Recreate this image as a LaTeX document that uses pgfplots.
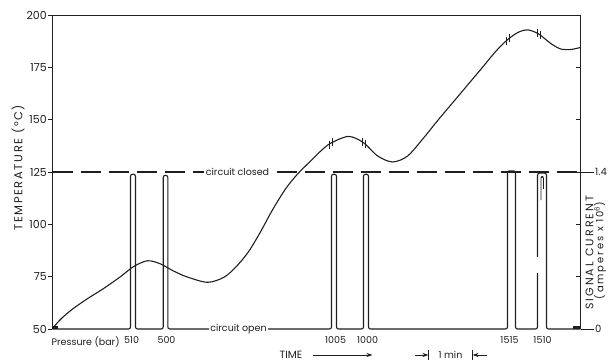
\documentclass[border=0pt]{standalone}
\usepackage{fontspec}
\setmainfont{Poppins}
\newfontfamily\spaced{Poppins}[LetterSpace=14]
\newfontfamily\wide{Poppins}[LetterSpace=19]
\usepackage{pgfplots}
\pgfplotsset{compat=1.18}
\usetikzlibrary{arrows.meta}
\definecolor{ink}{gray}{0.12}

\begin{document}
\begin{tikzpicture}[font=\fontsize{10}{12}\selectfont]
% ---------------- temperature axis (left) ----------------
\begin{axis}[
  width=528pt, height=314pt, scale only axis,
  xmin=0, xmax=528, ymin=50, ymax=200,
  axis x line=none, axis y line*=left,
  axis line style={ink, line width=0.9pt},
  ytick={50,75,...,200},
  tick align=outside, major tick length=4pt,
  tick style={ink, line width=0.9pt},
  yticklabel style={font=\fontsize{11}{11}\selectfont, inner sep=1.5pt, text=ink},
  /pgf/number format/assume math mode=true,
  clip=false,
]
\addplot[ink, line width=1.1pt, smooth, tension=0.5] coordinates {
(0,50.0)(4,52.5)(10,55.5)(20,59.5)(35,64.5)(50,69.0)(68,75.0)(81,79.8)
(95,82.6)(108,81.1)(121,77.7)(135,74.8)(155,72.3)(171,74.6)(183,79.4)(196,86.9)
(208,96.4)(220,106.9)(233,116.9)(245,124.0)(258,130.2)(268,134.9)(278,138.7)
(296,142.0)(311,139.0)(325,132.7)(340,129.8)(355,132.6)(371,141.2)(385,149.5)
(400,158.0)(415,166.5)(430,175.0)(443,182.5)(455,188.2)(466,191.8)(475,192.9)
(486,191.0)(498,186.5)(508,183.8)(518,183.5)(528,184.5)
};
\addplot[ink, only marks, mark=|, mark size=4pt, mark options={line width=0.8pt}] coordinates {
(276.5,138.1)(279.5,139.2)(309.5,139.5)(312.5,138.4)
(453.5,187.6)(456.5,188.8)(484.5,191.4)(487.5,190.4)
};
\draw[ink, line width=0.9pt] (rel axis cs:0,1) -- (rel axis cs:1,1);
\node[font=\spaced\fontsize{11.5}{12}\selectfont, text=ink, rotate=90] at ([xshift=-34.5pt]axis cs:0,127) {TEMPERATURE (°C)};
\end{axis}
% ---------------- signal current axis (right) ----------------
\begin{axis}[
  width=528pt, height=314pt, scale only axis,
  xmin=0, xmax=528, ymin=0, ymax=2.8,
  axis x line=none, axis y line*=right,
  axis line style={ink, line width=0.9pt},
  ytick={0,1.4}, yticklabels={0,1.4},
  tick align=outside, major tick length=13pt,
  tick style={ink, line width=0.9pt},
  extra y ticks={0.4667,0.9333,1.4,1.8667,2.3333},
  extra y tick labels={},
  extra y tick style={tick align=inside, major tick length=5pt},
  yticklabel style={font=\fontsize{10}{10}\selectfont, inner sep=1.5pt, text=ink},
  clip=false,
]
% circuit closed level
\addplot[ink, line width=1.2pt, dash pattern=on 20pt off 8pt] coordinates {(0,1.4)(528,1.4)};
% signal trace
\addplot[ink, line width=1.1pt, rounded corners=2pt] coordinates {
(0,0)(78,0)(78,1.38)(83,1.38)(83,0)
(110.7,0)(110.7,1.37)(115.3,1.37)(115.3,0)
(279,0)(279,1.38)(284,1.38)(284,0)
(311,0)(311,1.38)(316,1.38)(316,0)
(455,0)(455,1.41)(463,1.41)(463,0)
(485,0)(485,1.39)(494,1.39)(494,0)
(528,0)
};
\addplot[ink, line width=0.8pt, rounded corners=1.5pt] coordinates {(488.5,1.15)(488.5,1.36)(491,1.36)(491,1.25)};
\addplot[white, line width=3pt] coordinates {(485,0.50)(485,0.64)};
\fill[ink] (axis cs:0,0) rectangle ([xshift=6pt,yshift=3pt]axis cs:0,0);
\fill[ink] ([xshift=-8pt]axis cs:528,0) rectangle ([yshift=3pt]axis cs:528,0);
\node[fill=white, inner sep=1.5pt, font=\fontsize{9.5}{10}\selectfont, text=ink] at (axis cs:185,1.4) {circuit closed};
\node[fill=white, inner sep=1.5pt, font=\fontsize{9.5}{10}\selectfont, text=ink] at (axis cs:186,0) {circuit open};
% pressure labels
\node[anchor=north, font=\fontsize{9.5}{10}\selectfont, text=ink, inner sep=0pt] at (axis cs:79,0) [yshift=-7pt] {510};
\node[anchor=north, font=\fontsize{9.5}{10}\selectfont, text=ink, inner sep=0pt] at (axis cs:114,0) [yshift=-7pt] {500};
\node[anchor=north, font=\fontsize{9.5}{10}\selectfont, text=ink, inner sep=0pt] at (axis cs:283,0) [yshift=-7pt] {1005};
\node[anchor=north, font=\fontsize{9.5}{10}\selectfont, text=ink, inner sep=0pt] at (axis cs:315,0) [yshift=-7pt] {1000};
\node[anchor=north, font=\fontsize{9.5}{10}\selectfont, text=ink, inner sep=0pt] at (axis cs:457,0) [yshift=-7pt] {1515};
\node[anchor=north, font=\fontsize{9.5}{10}\selectfont, text=ink, inner sep=0pt] at (axis cs:490,0) [yshift=-7pt] {1510};
\node[anchor=north west, font=\fontsize{9.5}{10}\selectfont, text=ink, inner sep=0pt] at (axis cs:0,0) [yshift=-7pt, xshift=-1pt] {Pressure (bar)};
% time annotation
\node[font=\fontsize{10.5}{11}\selectfont, text=ink, anchor=east, inner sep=0pt] at (axis cs:250,0) [yshift=-26pt] {TIME};
\draw[ink, line width=0.9pt, -{Stealth[length=6pt,width=4pt]}] ([yshift=-26pt]axis cs:260,0) -- ([yshift=-26pt]axis cs:320,0);
\draw[ink, line width=0.9pt, -{Stealth[length=6pt,width=4pt]}] ([yshift=-26pt]axis cs:362,0) -- ([yshift=-26pt]axis cs:376,0);
\draw[ink, line width=0.9pt] ([yshift=-21pt]axis cs:376,0) -- ([yshift=-31pt]axis cs:376,0);
\draw[ink, line width=0.9pt, -{Stealth[length=6pt,width=4pt]}] ([yshift=-26pt]axis cs:434,0) -- ([yshift=-26pt]axis cs:420,0);
\draw[ink, line width=0.9pt] ([yshift=-21pt]axis cs:420,0) -- ([yshift=-31pt]axis cs:420,0);
\node[font=\fontsize{9.5}{10}\selectfont, text=ink] at (axis cs:398,0) [yshift=-26pt] {1 min};
% right-hand label
\node[font=\wide\fontsize{11}{11}\selectfont, text=ink, rotate=90] at ([xshift=9pt]axis cs:528,0.68) {SIGNAL CURRENT};
\node[font=\wide\fontsize{10}{10}\selectfont, text=ink, rotate=90] at ([xshift=19.5pt]axis cs:528,0.70) {(amperes x 10\textsuperscript{6})};
\end{axis}
\pgfresetboundingbox
\path[use as bounding box] ([shift={(-52.5pt,-35pt)}]current axis.south west) rectangle ++(611pt,364pt);
\end{tikzpicture}
\end{document}
